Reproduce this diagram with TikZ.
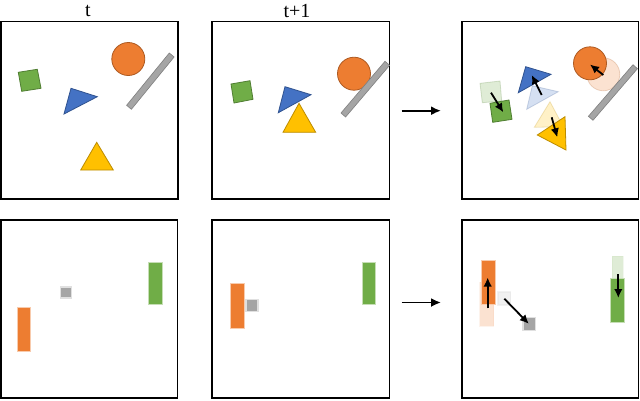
\documentclass[tikz,border=0pt]{standalone}
\usepackage{fontspec}
\setmainfont{Liberation Serif}
\usetikzlibrary{arrows.meta}
\definecolor{cgreen}{HTML}{70AD47}\definecolor{dgreen}{HTML}{507E32}
\definecolor{cblue}{HTML}{4472C4}\definecolor{dblue}{HTML}{2F528F}
\definecolor{corange}{HTML}{ED7D31}\definecolor{dorange}{HTML}{AE5A21}
\definecolor{cgray}{HTML}{A5A5A5}\definecolor{dgray}{HTML}{7F7F7F}
\definecolor{cyellow}{HTML}{FFC000}\definecolor{dyellow}{HTML}{BC8C00}
\tikzset{
  panel/.style={draw=black,line width=1.7pt,fill=white},
  gsq/.style={fill=cgreen,draw=dgreen,line width=0.8pt},
  btri/.style={fill=cblue,draw=dblue,line width=0.8pt},
  ytri/.style={fill=cyellow,draw=dyellow,line width=0.8pt},
  ocirc/.style={fill=corange,draw=dorange,line width=0.8pt},
  gbar/.style={fill=cgray,draw=dgray,line width=0.6pt},
  faded/.style={fill opacity=0.22,draw opacity=0.22},
  orect/.style={fill=corange,draw=corange!40,line width=0.4pt},
  grect/.style={fill=cgreen,draw=cgreen!40,line width=0.4pt},
  gbox/.style={fill=cgray,draw=black!12,line width=1.4pt},
  mv/.style={line width=1.8pt,-{Latex[length=9pt,width=8.5pt]}},
  step arrow/.style={line width=1.8pt,-{Latex[length=10pt,width=9pt]}},
  lbl/.style={font=\fontsize{20}{23}\selectfont,inner sep=0pt}
}
\begin{document}
\begin{tikzpicture}[x=1pt,y=-1pt]
\useasboundingbox (0,0) rectangle (640,400);
% labels
\node[lbl] (lt) at (88,11) {t};
\node[lbl] (lt1) at (297,11) {t+1};
% panels
\draw[panel] (1,21.5) rectangle (178,199);
\draw[panel] (212,21.5) rectangle (389.5,199);
\draw[panel] (462,21.5) rectangle (638.5,199);
\draw[panel] (1,220) rectangle (177.5,398);
\draw[panel] (212,220) rectangle (389.5,398);
\draw[panel] (462,220) rectangle (638.5,398);
% transition arrows
\coordinate (a1s) at (401.5,110.7); \coordinate (a1e) at (441,110.7);
\coordinate (a2s) at (401.5,302.5); \coordinate (a2e) at (441,302.5);
\draw[step arrow] (a1s) -- (a1e);
\draw[step arrow] (a2s) -- (a2e);
% ---- panel 1 (t)
\draw[gsq] (18.3,72.3) -- (37.3,69.3) -- (41,88.3) -- (21.7,91.3) -- cycle;
\draw[btri] (71,88.3) -- (97.3,96.7) -- (64,114) -- cycle;
\draw[ocirc] (128.3,59) circle (16.5);
\draw[gbar] (169.3,53) -- (174.1,57) -- (131.4,109.3) -- (126.6,105.3) -- cycle;
\draw[ytri] (96.7,142.3) -- (113.3,170) -- (80.7,170) -- cycle;
% ---- panel 2 (t+1)
\draw[gsq] (231,84) -- (250,80.7) -- (253,99.3) -- (234,103) -- cycle;
\draw[btri] (285,86.7) -- (311,94.7) -- (278.3,112.7) -- cycle;
\draw[ytri] (299,103.3) -- (315.7,132.3) -- (283,132.3) -- cycle;
\draw[ocirc] (354,73.7) circle (16.5);
\draw[gbar] (385,61.3) -- (389.6,65.3) -- (345.6,117) -- (341,113) -- cycle;
% ---- panel 3 (prediction)
\draw[gsq,faded] (480,83.3) -- (500,81) -- (501.7,101) -- (482.3,102.7) -- cycle;
\draw[gsq] (490,103.3) -- (509,100) -- (512,119.3) -- (492.7,122.3) -- cycle;
\draw[btri,faded] (532.3,85.7) -- (558.3,91.7) -- (526.7,109.3) -- cycle;
\draw[btri] (525.7,66.7) -- (551,74.3) -- (518.3,92.7) -- cycle;
\draw[ytri,faded] (550,101.7) -- (563.3,126.7) -- (534.3,127.3) -- cycle;
\draw[ytri] (565,116.7) -- (566,150) -- (537.3,135) -- cycle;
\draw[ocirc,faded] (603.3,74.3) circle (16.5);
\draw[ocirc] (590,63.3) circle (16.5);
\draw[gbar] (633,64.7) -- (637.4,68.7) -- (593,120.3) -- (588.4,116.3) -- cycle;
\coordinate (m1s) at (491,92.7); \coordinate (m1e) at (503.3,112.3);
\coordinate (m2s) at (541.7,95); \coordinate (m2e) at (531.7,75);
\coordinate (m3s) at (551.7,117.3); \coordinate (m3e) at (557.3,137.3);
\coordinate (m4s) at (603.3,75); \coordinate (m4e) at (590,64.5);
\draw[mv] (m1s) -- (m1e);
\draw[mv] (m2s) -- (m2e);
\draw[mv] (m3s) -- (m3e);
\draw[mv] (m4s) -- (m4e);
% ---- bottom panel 1
\draw[gbox] (60.5,287) rectangle (71.5,298);
\draw[orect] (16.7,306.7) rectangle (30.3,350.7);
\draw[grect] (148.3,261.7) rectangle (162,304);
% ---- bottom panel 2
\draw[orect] (230,283.3) rectangle (243.7,328.3);
\draw[gbox] (246,299.5) rectangle (258,311.5);
\draw[grect] (361.7,261.7) rectangle (375.3,304);
% ---- bottom panel 3
\draw[orect,faded] (479.5,282) rectangle (493.5,326);
\draw[orect] (481,260) rectangle (494.7,304);
\draw[gbox,fill opacity=0.15,draw opacity=0.4] (498,292) rectangle (510.5,305);
\draw[gbox] (523,317.5) rectangle (535.5,330.5);
\draw[grect,faded] (611.7,255.7) rectangle (623,299.7);
\draw[grect] (610,277.7) rectangle (623.7,321.7);
\coordinate (n1s) at (487.7,308.3); \coordinate (n1e) at (487.7,277.5);
\coordinate (n2s) at (504.3,298.7); \coordinate (n2e) at (528.8,323.8);
\coordinate (n3s) at (618.3,274); \coordinate (n3e) at (618.3,298);
\draw[mv] (n1s) -- (n1e);
\draw[mv] (n2s) -- (n2e);
\draw[mv] (n3s) -- (n3e);
\end{tikzpicture}
\end{document}
